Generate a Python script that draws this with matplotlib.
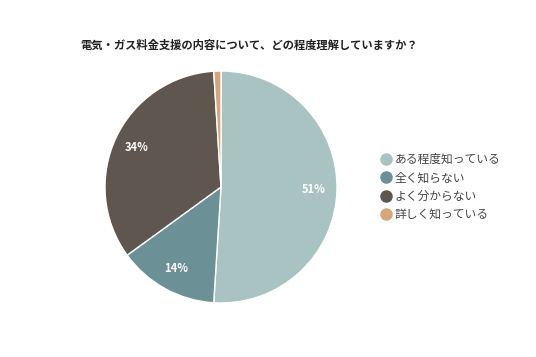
import matplotlib.pyplot as plt

plt.rcParams['font.family'] = ['Noto Sans CJK JP', 'DejaVu Sans']

title = '電気・ガス料金支援の内容について、どの程度理解していますか？'
labels = ['ある程度知っている', '全く知らない', 'よく分からない', '詳しく知っている']
values = [51, 14, 34, 1]
colors = ['#a9c3c3', '#6b9095', '#5f5650', '#d6a67b']

fig = plt.figure(figsize=(5.36, 3.57), dpi=100)
ax = fig.add_axes([105 / 536, 54 / 357, 232 / 536, 232 / 357])

wedges, texts, autotexts = ax.pie(
    values, colors=colors, startangle=90, counterclock=False,
    autopct=lambda p: f'{p:.0f}%' if p >= 5 else '', pctdistance=0.8,
    wedgeprops=dict(edgecolor='white', linewidth=1))
for t in autotexts:
    t.set_color('white')
    t.set_fontsize(8)
    t.set_fontweight('bold')
ax.set_xlim(-1, 1)
ax.set_ylim(-1, 1)
ax.set_aspect('equal')

fig.text(80 / 536, 1 - 45 / 357, title, fontsize=8.15, fontweight='bold',
         va='center', ha='left', color='#222222')

handles = [plt.Line2D([], [], marker='o', linestyle='', markersize=8,
                      markerfacecolor=c, markeredgecolor=c) for c in colors]
fig.legend(handles, labels, loc='center left',
           bbox_to_anchor=(369 / 536, 1 - 187 / 357), frameon=False,
           fontsize=8.5, handletextpad=0.3, labelspacing=0.45,
           handlelength=1.0, labelcolor='#444444')

fig.savefig('out.png', dpi=100)
